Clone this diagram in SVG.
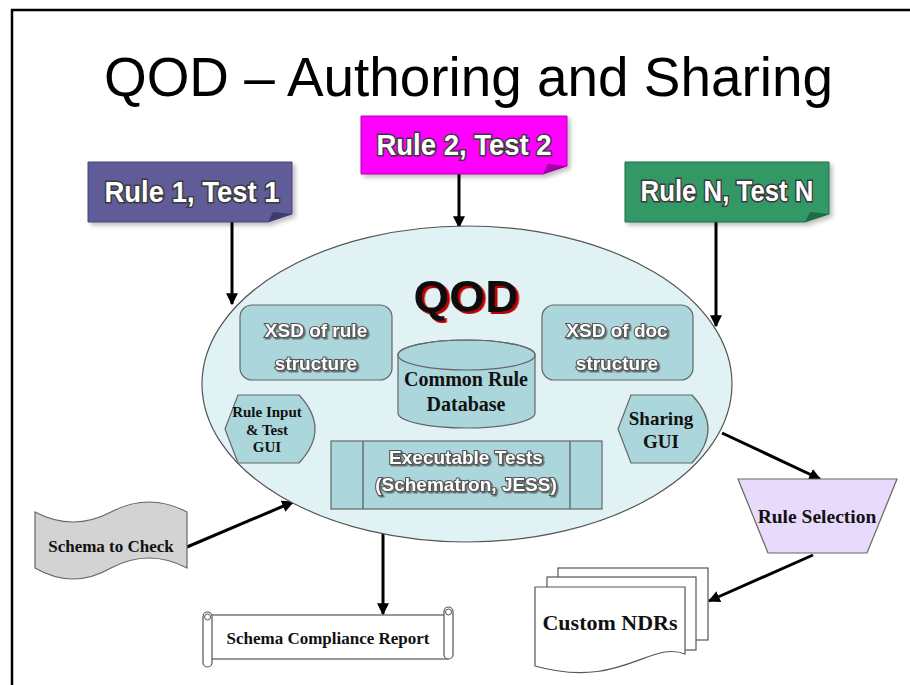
<svg xmlns="http://www.w3.org/2000/svg" width="910" height="685" viewBox="0 0 910 685">
<defs>
<style>
.title{font-family:"Liberation Sans",Arial,sans-serif;font-size:55px;fill:#000}
.rule{font-family:"Liberation Sans",Arial,sans-serif;font-weight:bold;font-size:29px;fill:#fff;stroke:#3a3a3a;stroke-width:3;paint-order:stroke;text-anchor:middle}
.wt{font-family:"Liberation Sans",Arial,sans-serif;font-weight:bold;font-size:19px;fill:#fff;stroke:#555;stroke-width:2.2;paint-order:stroke;text-anchor:middle}
.sr{font-family:"Liberation Serif","Times New Roman",serif;font-weight:bold;fill:#111;text-anchor:middle}
.shape{fill:#abd6dc;stroke:#666;stroke-width:1.2}
.conn{stroke:#000;stroke-width:3;fill:none;marker-end:url(#ah)}
</style>
<marker id="ah" viewBox="0 0 10 10" refX="9" refY="5" markerWidth="4" markerHeight="4" orient="auto" markerUnits="strokeWidth">
<path d="M0,0 L10,5 L0,10 Z" fill="#000"/>
</marker>
<filter id="ds" x="-10%" y="-10%" width="130%" height="140%">
<feDropShadow dx="1.5" dy="1.5" stdDeviation="0.6" flood-color="#555" flood-opacity="0.8"/>
</filter>
<filter id="red" x="-10%" y="-10%" width="130%" height="140%">
<feDropShadow dx="2.5" dy="2" stdDeviation="0.4" flood-color="#c00000" flood-opacity="1"/>
</filter>
<filter id="bs" x="-10%" y="-10%" width="130%" height="140%">
<feDropShadow dx="3" dy="3" stdDeviation="2" flood-color="#000" flood-opacity="0.25"/>
</filter>
</defs>

<rect x="0" y="0" width="910" height="685" fill="#fff"/>
<rect x="12" y="10" width="920" height="700" fill="none" stroke="#000" stroke-width="2.5"/>

<text class="title" x="104" y="96" textLength="729" lengthAdjust="spacingAndGlyphs">QOD – Authoring and Sharing</text>

<g id="connectors">
<line class="conn" x1="232" y1="222" x2="232" y2="304"/>
<line class="conn" x1="459" y1="174" x2="459" y2="227"/>
<line class="conn" x1="716" y1="222" x2="716" y2="326"/>
<line class="conn" x1="187" y1="547" x2="293" y2="502"/>
<line class="conn" x1="383" y1="530" x2="383" y2="614"/>
<line class="conn" x1="722" y1="433" x2="820" y2="479"/>
<line class="conn" x1="813" y1="555" x2="709" y2="601"/>
</g>

<g id="rule1">
<path d="M88,162 H292 V214 L268,222 H88 Z" fill="#5f5b98" stroke="#4a4780" stroke-width="1" filter="url(#bs)"/>
<path d="M292,214 L268,222 L273,212 Z" fill="#3e3b6e"/>
<text class="rule" x="192" y="202" textLength="175" lengthAdjust="spacingAndGlyphs">Rule 1, Test 1</text>
</g>

<g id="rule2">
<path d="M361,116 H567 V166 L543,174 H361 Z" fill="#ff00ff" stroke="#b000b0" stroke-width="1" filter="url(#bs)"/>
<path d="M567,166 L543,174 L548,164 Z" fill="#a000a0"/>
<text class="rule" x="464" y="155" textLength="175" lengthAdjust="spacingAndGlyphs">Rule 2, Test 2</text>
</g>

<g id="ruleN">
<path d="M625,162 H829 V214 L805,222 H625 Z" fill="#339966" stroke="#236b47" stroke-width="1" filter="url(#bs)"/>
<path d="M829,214 L805,222 L810,212 Z" fill="#1f6b45"/>
<text class="rule" x="727" y="201" textLength="173" lengthAdjust="spacingAndGlyphs">Rule N, Test N</text>
</g>

<g id="qod">
<ellipse cx="467" cy="384" rx="265" ry="158" fill="#e1f2f4" stroke="#555" stroke-width="1.2"/>
<text x="466" y="312" text-anchor="middle" font-family="Liberation Sans,Arial,sans-serif" font-weight="bold" font-size="44" fill="#111" filter="url(#red)" textLength="105" lengthAdjust="spacingAndGlyphs">QOD</text>
</g>

<g id="xsd-rule">
<rect class="shape" x="240" y="305" width="152" height="75" rx="12"/>
<text class="wt" x="316" y="337" filter="url(#ds)">XSD of rule</text>
<text class="wt" x="316" y="370" filter="url(#ds)">structure</text>
</g>

<g id="xsd-doc">
<rect class="shape" x="542" y="305" width="151" height="75" rx="12"/>
<text class="wt" x="617" y="337" filter="url(#ds)">XSD of doc</text>
<text class="wt" x="617" y="370" filter="url(#ds)">structure</text>
</g>

<g id="database">
<path class="shape" d="M398,355 V413 A68.5,15 0 0 0 535,413 V355 A68.5,15 0 0 0 398,355 Z"/>
<ellipse cx="466.5" cy="355" rx="68.5" ry="15" fill="none" stroke="#666" stroke-width="1.2"/>
<text class="sr" x="466" y="386" font-size="20">Common Rule</text>
<text class="sr" x="466" y="411" font-size="20">Database</text>
</g>

<g id="rule-input-gui">
<path class="shape" d="M225,429 L238,395 H299 Q331,429 299,463 H238 Z"/>
<text class="sr" x="267" y="417" font-size="15">Rule Input</text>
<text class="sr" x="267" y="435" font-size="15">&amp; Test</text>
<text class="sr" x="267" y="452" font-size="15">GUI</text>
</g>

<g id="sharing-gui">
<path class="shape" d="M618,429 L631,395 H692 Q724,429 692,463 H631 Z"/>
<text class="sr" x="661" y="425" font-size="19">Sharing</text>
<text class="sr" x="661" y="448" font-size="19">GUI</text>
</g>

<g id="exec-tests">
<rect class="shape" x="331" y="441" width="271" height="68"/>
<line x1="363" y1="441" x2="363" y2="509" stroke="#555" stroke-width="1.2"/>
<line x1="570" y1="441" x2="570" y2="509" stroke="#555" stroke-width="1.2"/>
<text class="wt" x="466" y="464" font-size="21" filter="url(#ds)">Executable Tests</text>
<text class="wt" x="466" y="491" font-size="21" filter="url(#ds)">(Schematron, JESS)</text>
</g>

<g id="schema-to-check">
<path d="M35,512 Q73,532 111,512 Q149,492 187,512 L187,568 Q149,548 111,568 Q73,590 35,568 Z" fill="#d3d3d3" stroke="#666" stroke-width="1.2"/>
<text class="sr" x="111" y="552" font-size="17">Schema to Check</text>
</g>

<g id="compliance-report">
<rect x="208" y="615" width="240" height="44" fill="#fff" stroke="#555" stroke-width="1.2"/>
<rect x="203" y="612" width="9" height="55" rx="4.5" fill="#fff" stroke="#555" stroke-width="1.2"/>
<circle cx="207.5" cy="617" r="3" fill="#fff" stroke="#555" stroke-width="1"/>
<rect x="444" y="607" width="9" height="52" rx="4.5" fill="#fff" stroke="#555" stroke-width="1.2"/>
<circle cx="448.5" cy="612" r="3" fill="#fff" stroke="#555" stroke-width="1"/>
<text class="sr" x="328" y="644" font-size="17">Schema Compliance Report</text>
</g>

<g id="rule-selection">
<path d="M738,479 H897 L867,553 H768 Z" fill="#e8dafa" stroke="#666" stroke-width="1.2"/>
<text class="sr" x="817" y="523" font-size="19.5">Rule Selection</text>
</g>

<g id="custom-ndrs">
<rect x="558" y="568" width="150" height="72" fill="#fff" stroke="#555" stroke-width="1.2"/>
<rect x="547" y="577" width="149" height="73" fill="#fff" stroke="#555" stroke-width="1.2"/>
<path d="M535,587 H685 V654 C650,640 620,690 535,666 Z" fill="#fff" stroke="#555" stroke-width="1.2"/>
<text class="sr" x="610" y="630" font-size="22">Custom NDRs</text>
</g>
</svg>
